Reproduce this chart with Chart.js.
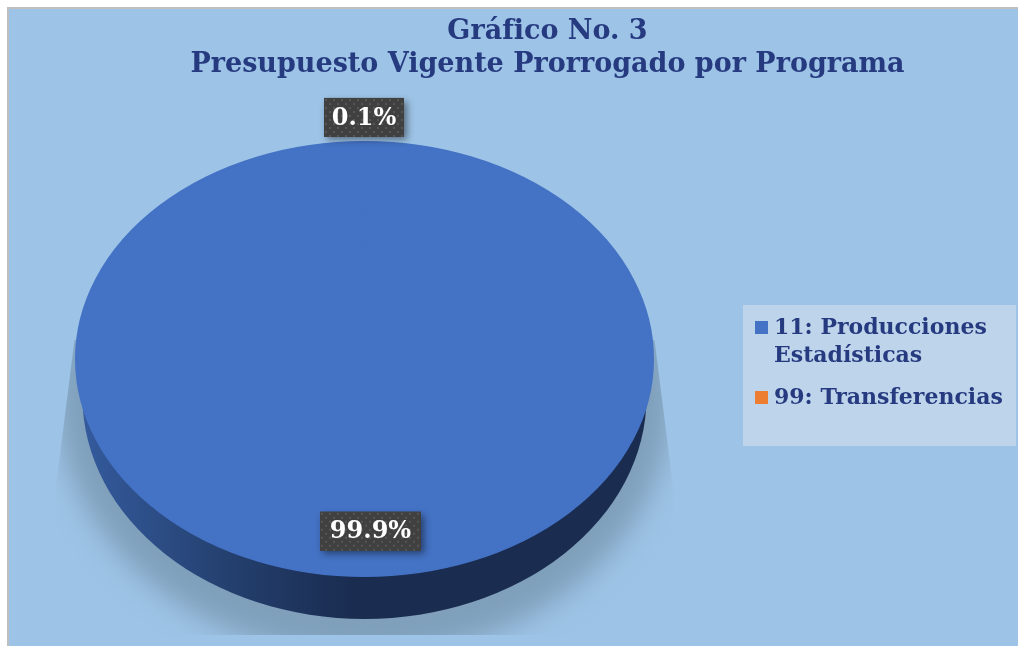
<!DOCTYPE html>
<html lang="es">
<head>
<meta charset="utf-8">
<title>Gráfico No. 3</title>
<style>
  html, body { margin: 0; padding: 0; background: #ffffff; }
  canvas { display: block; }
</style>
</head>
<body>
<canvas id="chart" width="1018" height="646"></canvas>
<script src="https://cdn.jsdelivr.net/npm/chart.js@4/dist/chart.umd.min.js"></script>
<script>
const titleLines = ["Gráfico No. 3", "Presupuesto Vigente Prorrogado por Programa"];
const categories = ["11: Producciones Estadísticas", "99: Transferencias"];
const legendLines = [["11: Producciones", "Estadísticas"], ["99: Transferencias"]];
const seriesValues = [99.9, 0.1];
const sliceColors = ["#4472C4", "#ED7D31"];

const FONT = '"DejaVu Serif", serif';
const TEXT_COLOR = "#263A80";

// the pie is a flattened disc: where the top face goes on the page
const face = { x: 364.5, y: 359, rx: 289.5, ry: 218 };

function dotPattern(ctx) {
  const tile = document.createElement("canvas");
  tile.width = 8;
  tile.height = 8;
  const t = tile.getContext("2d");
  t.fillStyle = "#404040";
  t.fillRect(0, 0, 8, 8);
  t.fillStyle = "#565656";
  t.fillRect(1, 1, 2, 2);
  t.fillRect(5, 5, 2, 2);
  return ctx.createPattern(tile, "repeat");
}

const discPlugin = {
  id: "disc",
  beforeDraw(chart) {
    const ctx = chart.ctx;
    ctx.save();
    ctx.fillStyle = "#BFBFBF";
    ctx.fillRect(7, 7, chart.width - 7, chart.height - 7);
    ctx.fillStyle = "#9DC3E6";
    ctx.fillRect(9, 9, chart.width - 9, chart.height - 9);
    ctx.restore();
  },
  beforeDatasetsDraw(chart) {
    const ctx = chart.ctx;
    const arc = chart.getDatasetMeta(0).data[0];

    // soft shadow under the disc, cut off at the bottom
    ctx.save();
    ctx.beginPath();
    ctx.moveTo(face.x - 290, 340);
    ctx.lineTo(face.x - 309, 490);
    ctx.lineTo(face.x - 309, 635);
    ctx.lineTo(face.x + 309, 635);
    ctx.lineTo(face.x + 309, 490);
    ctx.lineTo(face.x + 290, 340);
    ctx.closePath();
    ctx.clip();
    ctx.filter = "blur(14px)";
    ctx.fillStyle = "#7F9FBA";
    ctx.beginPath();
    ctx.ellipse(face.x, face.y + 36, face.rx + 18, face.ry + 43, 0, 0, Math.PI * 2);
    ctx.fill();
    ctx.restore();

    // side wall
    const wall = ctx.createLinearGradient(85, 0, 400, 0);
    wall.addColorStop(0, "#345A9C");
    wall.addColorStop(0.45, "#24406F");
    wall.addColorStop(0.85, "#1A2C50");
    wall.addColorStop(1, "#1A2C50");
    ctx.save();
    ctx.fillStyle = wall;
    ctx.beginPath();
    ctx.ellipse(face.x, face.y + 38, face.rx - 7.5, face.ry + 4, 0, 0, Math.PI * 2);
    ctx.fill();
    ctx.restore();

    // the library draws the slices, stretched onto the top face
    ctx.save();
    ctx.translate(face.x, face.y);
    ctx.scale(face.rx / (arc.outerRadius + 1), face.ry / (arc.outerRadius + 1));
    ctx.translate(-arc.x, -arc.y);
  },
  afterDatasetsDraw(chart) {
    const ctx = chart.ctx;
    ctx.restore();

    // legend panel
    ctx.save();
    ctx.fillStyle = "#BDD4EA";
    ctx.fillRect(743, 305, 273, 141);
    ctx.textAlign = "left";
    ctx.textBaseline = "alphabetic";
    ctx.font = "bold 22px " + FONT;
    const rows = [334, 404];
    legendLines.forEach((lines, i) => {
      ctx.fillStyle = sliceColors[i];
      ctx.fillRect(755, rows[i] - 13, 13, 13);
      ctx.fillStyle = TEXT_COLOR;
      lines.forEach((line, j) => ctx.fillText(line, 774, rows[i] + j * 28));
    });
    ctx.restore();

    // percentage labels
    const meta = chart.getDatasetMeta(0);
    const reach = [0.79, 1.108];
    const nudge = [6, -0.5];
    const total = seriesValues.reduce((a, b) => a + b, 0);
    const boxWidth = [101, 80];
    seriesValues.forEach((val, i) => {
      const a = meta.data[i];
      const mid = (a.startAngle + a.endAngle) / 2;
      const x = face.x + Math.cos(mid) * face.rx * reach[i] + nudge[i];
      const y = face.y + Math.sin(mid) * face.ry * reach[i];
      const w = boxWidth[i];
      const h = 39;
      ctx.save();
      ctx.shadowColor = "rgba(0,0,0,0.45)";
      ctx.shadowBlur = 7;
      ctx.shadowOffsetX = 3;
      ctx.shadowOffsetY = 3;
      ctx.fillStyle = "#404040";
      ctx.fillRect(x - w / 2, y - h / 2, w, h);
      ctx.restore();
      ctx.save();
      ctx.translate(x - w / 2, y - h / 2);
      ctx.fillStyle = dotPattern(ctx);
      ctx.fillRect(0, 0, w, h);
      ctx.restore();
      ctx.save();
      ctx.fillStyle = "#FFFFFF";
      ctx.font = "bold 24px " + FONT;
      ctx.textAlign = "center";
      ctx.textBaseline = "middle";
      ctx.fillText(((val / total) * 100).toFixed(1) + "%", x, y + 1);
      ctx.restore();
    });
  },
};

new Chart(document.getElementById("chart"), {
  type: "pie",
  data: {
    labels: categories,
    datasets: [
      {
        data: seriesValues,
        backgroundColor: sliceColors,
        // the thin slice is hair-width in the picture, the blue edge swallows it
        borderColor: "#4472C4",
        borderWidth: 2,
        clip: false,
      },
    ],
  },
  options: {
    responsive: false,
    animation: false,
    rotation: 0.18,
    layout: { padding: { left: 77, top: 16 } },
    plugins: {
      legend: { display: false },
      tooltip: { enabled: false },
      title: {
        display: true,
        text: titleLines,
        color: TEXT_COLOR,
        font: { family: FONT, size: 27, weight: "bold", lineHeight: 1.2 },
        padding: { top: 0, bottom: 10 },
      },
    },
  },
  plugins: [discPlugin],
});
</script>
</body>
</html>
